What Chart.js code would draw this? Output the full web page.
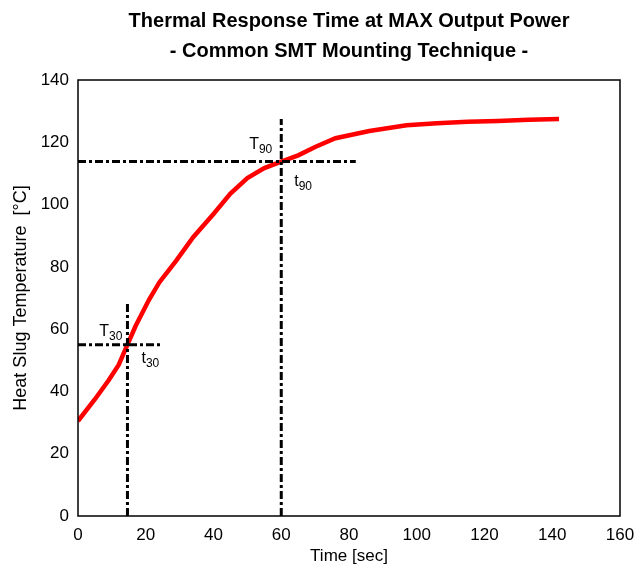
<!DOCTYPE html>
<html>
<head>
<meta charset="utf-8">
<script src="https://cdn.jsdelivr.net/npm/chart.js@4.4.1/dist/chart.umd.min.js"></script>
<style>
  html, body { margin: 0; padding: 0; background: #fff; }
  #wrap { width: 639px; height: 567px; }
</style>
</head>
<body>
<div id="wrap"><canvas id="chart" width="639" height="567"></canvas></div>
<script>
// measured heat slug temperature vs time
const timeSec = [0, 5, 9, 12, 14.6, 17, 21, 24, 29, 34, 40, 45, 50, 55, 60, 65, 70, 76, 86, 97, 106, 115, 124, 133, 142];
const tempC = [30.5, 37.5, 43.5, 48.5, 55, 61, 69.5, 75, 82, 89.5, 97, 103.5, 108.5, 111.7, 113.8, 115.8, 118.5, 121.3, 123.6, 125.5, 126.1, 126.6, 126.8, 127.2, 127.5];

// t30 / T30 and t90 / T90 marker lines
const t30 = 14.6, T30 = 55;
const t90 = 60, T90 = 113.8;
const t30LineTop = 69, T30LineEnd = 25;
const t90LineTop = 127.5, T90LineEnd = 82;

const xTicks = [0, 20, 40, 60, 80, 100, 120, 140, 160];
const yTicks = [0, 20, 40, 60, 80, 100, 120, 140];

const titleLines = ['Thermal Response Time at MAX Output Power', '- Common SMT Mounting Technique -'];

const FONT = "'Liberation Sans', Arial, sans-serif";

const points = timeSec.map((t, i) => ({ x: t, y: tempC[i] }));

function markerLine(a, b) {
  return {
    data: [a, b],
    showLine: true,
    borderColor: '#000',
    borderWidth: 3,
    borderDash: [8, 3, 3, 3],
    pointRadius: 0,
    fill: false,
  };
}

// frame, title and the T/t labels
const decorations = {
  id: 'decorations',
  afterDraw(chart) {
    const { ctx, chartArea: a, scales } = chart;
    const xs = scales.x, ys = scales.y;
    ctx.save();
    ctx.strokeStyle = '#000';
    ctx.lineWidth = 1.5;
    ctx.strokeRect(a.left, a.top, a.right - a.left, a.bottom - a.top);

    ctx.fillStyle = '#000';
    ctx.textAlign = 'center';
    ctx.textBaseline = 'alphabetic';
    ctx.font = 'bold 20px ' + FONT;
    const cx = (a.left + a.right) / 2;
    ctx.fillText(titleLines[0], cx, 27);
    ctx.fillText(titleLines[1], cx, 57);

    const sub = (main, subTxt, x, y, alignRight) => {
      ctx.font = '16px ' + FONT;
      const w1 = ctx.measureText(main).width;
      ctx.font = '12px ' + FONT;
      const w2 = ctx.measureText(subTxt).width;
      const x0 = alignRight ? x - w1 - w2 : x;
      ctx.textAlign = 'left';
      ctx.font = '16px ' + FONT;
      ctx.fillText(main, x0, y);
      ctx.font = '12px ' + FONT;
      ctx.fillText(subTxt, x0 + w1, y + 4);
    };
    const p30x = xs.getPixelForValue(t30), p30y = ys.getPixelForValue(T30);
    const p90x = xs.getPixelForValue(t90), p90y = ys.getPixelForValue(T90);
    sub('T', '30', p30x - 5, p30y - 9, true);
    sub('t', '30', p30x + 14, p30y + 18, false);
    sub('T', '90', p90x - 9, p90y - 13, true);
    sub('t', '90', p90x + 13, p90y + 24, false);
    ctx.restore();
  }
};

new Chart(document.getElementById('chart'), {
  type: 'scatter',
  data: {
    datasets: [
      markerLine({ x: 0, y: T30 }, { x: T30LineEnd, y: T30 }),
      markerLine({ x: t30, y: 0 }, { x: t30, y: t30LineTop }),
      markerLine({ x: 0, y: T90 }, { x: T90LineEnd, y: T90 }),
      markerLine({ x: t90, y: 0 }, { x: t90, y: t90LineTop }),
      {
        data: points,
        showLine: true,
        borderColor: '#ff0000',
        borderWidth: 4.5,
        pointRadius: 0,
        tension: 0,
        fill: false,
      },
    ],
  },
  options: {
    responsive: false,
    animation: false,
    layout: { padding: { top: 80, right: 19, left: 0, bottom: 0 } },
    plugins: {
      legend: { display: false },
      tooltip: { enabled: false },
    },
    scales: {
      x: {
        type: 'linear',
        min: 0,
        max: 160,
        afterBuildTicks: (s) => { s.ticks = xTicks.map(v => ({ value: v })); },
        afterFit: (s) => { s.height = 51; s.paddingLeft = 0; s.paddingRight = 0; },
        grid: { display: false, drawTicks: false },
        border: { display: false },
        ticks: { color: '#000', padding: 9, font: { family: FONT, size: 17 } },
        title: { display: true, text: 'Time [sec]', color: '#000', padding: { top: 3, bottom: 0 }, font: { family: FONT, size: 17 } },
      },
      y: {
        type: 'linear',
        min: 0,
        max: 140,
        afterBuildTicks: (s) => { s.ticks = yTicks.map(v => ({ value: v })); },
        afterFit: (s) => { s.width = 78; s.paddingTop = 0; s.paddingBottom = 0; },
        grid: { display: false, drawTicks: false },
        border: { display: false },
        ticks: { color: '#000', padding: 9, font: { family: FONT, size: 17 } },
        title: { display: true, text: 'Heat Slug Temperature  [°C]', color: '#000', padding: { top: 10, bottom: 4 }, font: { family: FONT, size: 18 } },
      },
    },
  },
  plugins: [decorations],
});
</script>
</body>
</html>
